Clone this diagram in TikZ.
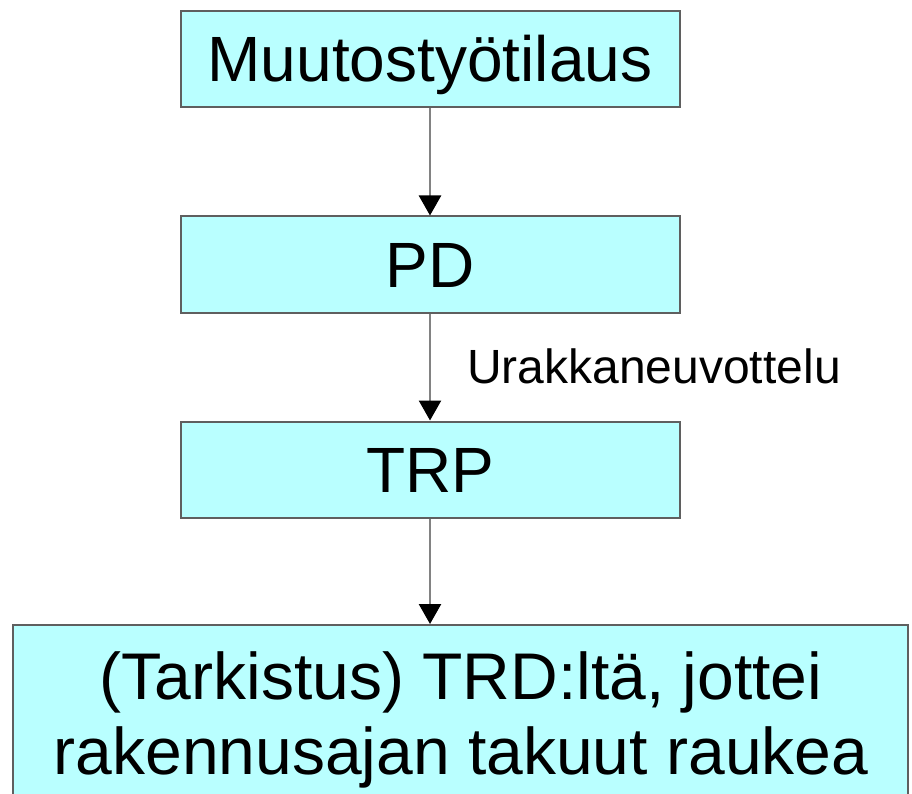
\documentclass[tikz,border=0pt]{standalone}
\usepackage{fontspec}
\setmainfont{Liberation Sans}
\usetikzlibrary{arrows.meta}
\definecolor{boxfill}{RGB}{185,255,255}
\definecolor{boxline}{RGB}{95,95,95}
\definecolor{shaft}{RGB}{130,130,130}
\tikzset{
  flowbox/.style={draw=boxline, line width=2pt, fill=boxfill, rectangle,
    inner sep=0pt, minimum width=499pt, minimum height=96pt,
    text height=46pt, text depth=0pt,
    font=\fontsize{64pt}{74pt}\selectfont},
  boxtext/.style={anchor=base, inner sep=0pt,
    font=\fontsize{66pt}{76pt}\selectfont},
  flowarrow/.style={draw=shaft, line width=2.5pt,
    -{Triangle[width=22pt,length=20pt,color=black]}},
  edgelabel/.style={anchor=base west, inner sep=0pt,
    font=\fontsize{48pt}{56pt}\selectfont}
}
\begin{document}
\begin{tikzpicture}[x=1pt,y=-1pt]
  \useasboundingbox (0,0) rectangle (912,794);
  \fill[white] (0,0) rectangle (912,794);

  % process steps
  \node[flowbox] (order) at (430,59)    {Muutostyötilaus};
  \node[flowbox] (pd)    at (430,264.5) {PD};
  \node[flowbox] (trp)   at (430,469.5) {TRP};

  % final step, running past the lower edge
  \node[draw=boxline, line width=2pt, fill=boxfill, rectangle, inner sep=0pt,
        minimum width=895pt, minimum height=215pt] (check) at (460.5,732.5) {};
  \node[boxtext] (checkA) at (461,699.5) {(Tarkistus) TRD:ltä, jottei};
  \node[boxtext] (checkB) at (461,774)   {rakennusajan takuut raukea};

  % connectors
  \draw[flowarrow] (order.south) -- (pd.north);
  \draw[flowarrow] (pd.south) -- (trp.north);
  \draw[flowarrow] (trp.south) -- (trp.south |- check.north);

  \node[edgelabel] (nego) at (467,383) {Urakkaneuvottelu};
\end{tikzpicture}
\end{document}
